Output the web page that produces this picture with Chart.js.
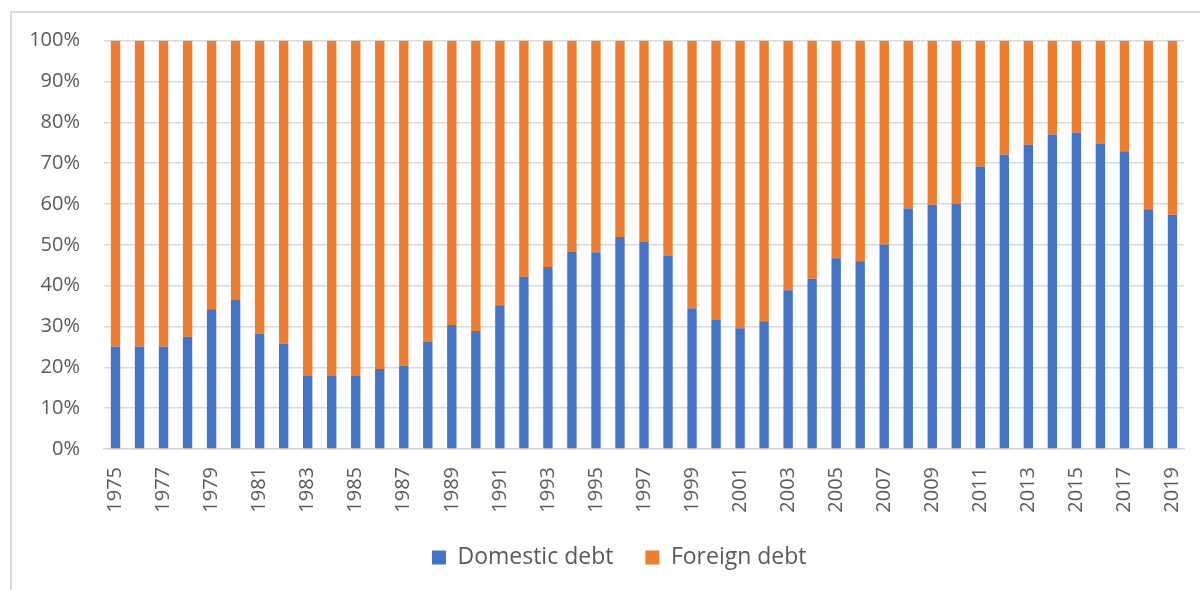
<!DOCTYPE html>
<html>
<head>
<meta charset="utf-8">
<script src="https://cdn.jsdelivr.net/npm/chart.js@4"></script>
<style>
  html, body { margin: 0; padding: 0; background: #fff; }
  #wrap { position: relative; width: 1200px; height: 590px; overflow: hidden; }
  #frame {
    position: absolute; left: 10px; top: 11px; width: 1300px; height: 700px;
    border-left: 2px solid #d9d9d9; border-top: 2px solid #d9d9d9;
  }
  canvas { position: absolute; left: 0; top: 0; }
</style>
</head>
<body>
<div id="wrap">
  <div id="frame"></div>
  <canvas id="chart" width="1200" height="590"></canvas>
</div>
<script>
// Share of total public debt, domestic vs foreign, 1975-2019
const years = [
  1975, 1976, 1977, 1978, 1979, 1980, 1981, 1982, 1983, 1984,
  1985, 1986, 1987, 1988, 1989, 1990, 1991, 1992, 1993, 1994,
  1995, 1996, 1997, 1998, 1999, 2000, 2001, 2002, 2003, 2004,
  2005, 2006, 2007, 2008, 2009, 2010, 2011, 2012, 2013, 2014,
  2015, 2016, 2017, 2018, 2019
];

const domesticDebt = [
  25.1, 25.1, 25.1, 27.5, 34.2, 36.5, 28.2, 25.8, 17.9, 17.9,
  17.9, 19.6, 20.4, 26.2, 30.4, 28.9, 35.2, 42.2, 44.6, 48.4,
  48.2, 51.9, 50.8, 47.4, 34.5, 31.6, 29.6, 31.3, 38.9, 41.7,
  46.7, 46.0, 50.1, 58.9, 59.8, 60.0, 69.2, 72.1, 74.5, 77.0,
  77.5, 74.8, 72.9, 58.7, 57.4
];

const foreignDebt = [
  74.9, 74.9, 74.9, 72.5, 65.8, 63.5, 71.8, 74.2, 82.1, 82.1,
  82.1, 80.4, 79.6, 73.8, 69.6, 71.1, 64.8, 57.8, 55.4, 51.6,
  51.8, 48.1, 49.2, 52.6, 65.5, 68.4, 70.4, 68.7, 61.1, 58.3,
  53.3, 54.0, 49.9, 41.1, 40.2, 40.0, 30.8, 27.9, 25.5, 23.0,
  22.5, 25.2, 27.1, 41.3, 42.6
];

const yTicks = [0, 10, 20, 30, 40, 50, 60, 70, 80, 90, 100];

const BLUE = '#4472c4';
const ORANGE = '#ed7d31';
const TEXT = '#595959';
const GRID = '#d9d9d9';
const FONT = "'Open Sans', 'Segoe UI', sans-serif";

// legend sits a little right of the canvas centre
const legendShift = {
  id: 'legendShift',
  afterLayout(chart) {
    if (chart.legend) chart.legend.left += 54;
  }
};

new Chart(document.getElementById('chart'), {
  type: 'bar',
  data: {
    labels: years.map(String),
    datasets: [
      {
        label: 'Domestic debt',
        data: domesticDebt,
        backgroundColor: BLUE,
        categoryPercentage: 1,
        barPercentage: 0.39
      },
      {
        label: 'Foreign debt',
        data: foreignDebt,
        backgroundColor: ORANGE,
        categoryPercentage: 1,
        barPercentage: 0.39
      }
    ]
  },
  options: {
    responsive: false,
    animation: false,
    layout: { padding: { top: 40.7, right: 15.5, left: 0, bottom: 11 } },
    scales: {
      x: {
        stacked: true,
        grid: { display: false, drawTicks: false },
        border: { display: true, color: GRID, width: 1.5 },
        ticks: {
          autoSkip: false,
          minRotation: 90,
          maxRotation: 90,
          padding: 18,
          color: TEXT,
          font: { family: FONT, size: 20 },
          callback: (v, i) => (i % 2 === 0 ? years[i] : '')
        },
        afterFit: s => {
          s.height = 65;
          s.paddingLeft = 0;
          s.paddingRight = 0;
        }
      },
      y: {
        stacked: true,
        min: 0,
        max: 100,
        afterBuildTicks: s => { s.ticks = yTicks.map(v => ({ value: v })); },
        grid: { color: GRID, lineWidth: 1.5, drawTicks: false },
        border: { display: false },
        ticks: {
          padding: 23.5,
          color: TEXT,
          font: { family: FONT, size: 20 },
          callback: v => v + '%'
        },
        afterFit: s => { s.width = 103.5; }
      }
    },
    plugins: {
      legend: {
        position: 'bottom',
        labels: {
          boxWidth: 14,
          boxHeight: 14,
          padding: 32,
          color: TEXT,
          font: { family: FONT, size: 23 }
        }
      },
      tooltip: { enabled: false }
    }
  },
  plugins: [legendShift]
});
</script>
</body>
</html>
